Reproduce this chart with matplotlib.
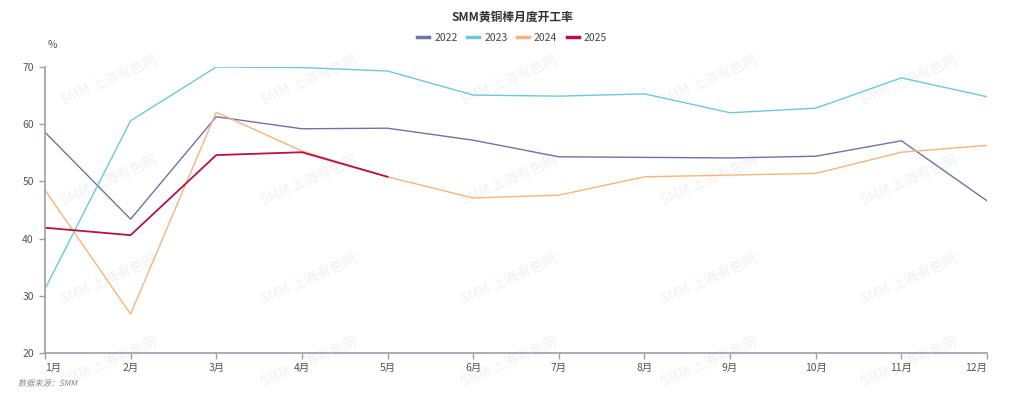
import matplotlib
matplotlib.use("Agg")
import matplotlib.pyplot as plt
from matplotlib.textpath import TextPath
from matplotlib.patches import PathPatch
from matplotlib.font_manager import FontProperties
from matplotlib.transforms import Affine2D

plt.rcParams['font.family'] = ['Noto Sans CJK SC', 'DejaVu Sans']

months = ['1月', '2月', '3月', '4月', '5月', '6月', '7月', '8月', '9月', '10月', '11月', '12月']
y2022 = [58.6, 43.4, 61.3, 59.2, 59.3, 57.2, 54.3, 54.2, 54.1, 54.4, 57.1, 46.6]
y2023 = [31.2, 60.6, 70.0, 69.9, 69.3, 65.1, 64.9, 65.3, 62.0, 62.8, 68.1, 64.8]
y2024 = [48.5, 26.8, 62.1, 55.3, 50.8, 47.1, 47.6, 50.8, 51.1, 51.4, 55.1, 56.3]
y2025 = [41.9, 40.6, 54.6, 55.1, 50.8]

fig = plt.figure(figsize=(10.24, 3.99), dpi=100)
ax = fig.add_axes([0.0439, 0.1153, 0.92, 0.7168])
ax.set_zorder(1)

# watermark
for wx in [109, 309, 509, 709, 909]:
    for wy in [80, 180, 279, 362]:
        fig.text(wx / 1024, 1 - wy / 399, 'SMM 上海有色网', fontsize=10, color='#f1f1f1',
                 rotation=24, ha='center', va='center', zorder=0)

x = list(range(12))
ax.plot(x, y2022, color='#6f72a8', lw=1.0, label='2022')
ax.plot(x, y2023, color='#6ccad6', lw=1.0, label='2023')
ax.plot(x, y2024, color='#f7b47c', lw=1.0, label='2024')
ax.plot(x[:len(y2025)], y2025, color='#b8104a', lw=1.3, label='2025')

ax.set_xlim(0, 11)
ax.set_ylim(20, 70)
ax.set_yticks([20, 30, 40, 50, 60, 70])
ax.set_xticks(x)
ax.set_xticklabels(months)
ax.patch.set_alpha(0)
xl = ax.get_xticklabels()
xl[0].set_ha('left')
xl[-1].set_ha('right')

for s in ['top', 'right']:
    ax.spines[s].set_visible(False)
for s in ['left', 'bottom']:
    ax.spines[s].set_color('#9a9eae')
    ax.spines[s].set_linewidth(1.2)
ax.tick_params(axis='both', colors='#9a9eae', labelcolor='#555555', labelsize=7.5, length=4, width=1)
ax.tick_params(axis='y', pad=4)
ax.tick_params(axis='x', pad=3)

ax.text(0.003, 1.06, '%', transform=ax.transAxes, fontsize=7.5, color='#555555', ha='left', va='bottom')

fig.text(0.5, 1 - 17 / 399, 'SMM黄铜棒月度开工率', fontsize=8.5, fontweight='bold', color='#333333',
         ha='center', va='center')
leg = fig.legend(loc='center', bbox_to_anchor=(0.5, 1 - 38 / 399), ncol=4, frameon=False,
                 fontsize=7.5, handlelength=1.2, handletextpad=0.45, columnspacing=0.9)
for t in leg.get_texts():
    t.set_color('#444444')
for h in leg.get_lines():
    h.set_linewidth(2.5)

# slanted source note (CJK font has no italic)
tp = TextPath((0, 0), '数据来源：SMM', size=8.2, prop=FontProperties(family='Noto Sans CJK SC'))
tr = Affine2D().skew_deg(12, 0).translate(18, 399 - 386)
fig.patches.append(PathPatch(tr.transform_path(tp), transform=None, facecolor='#888888',
                             edgecolor='none', figure=fig))

fig.savefig('out.png', dpi=100)
